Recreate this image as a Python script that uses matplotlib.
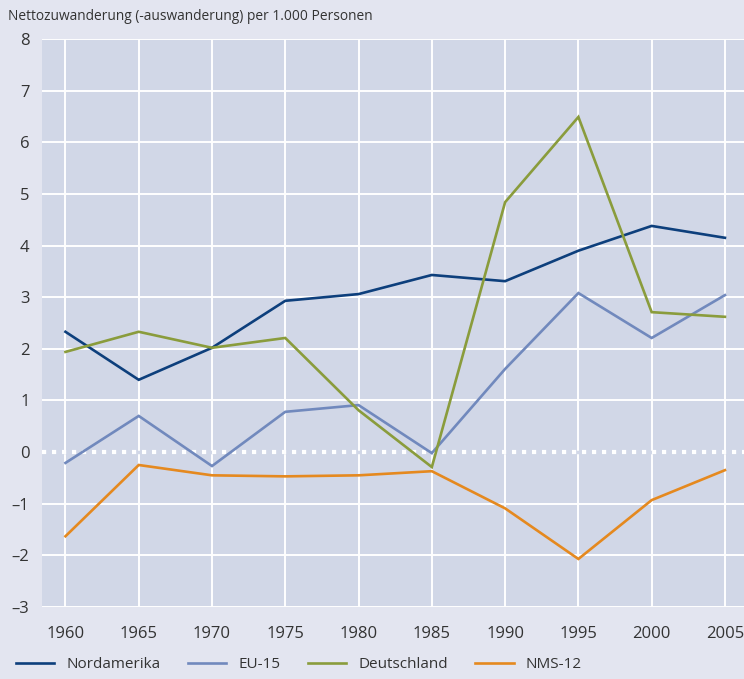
import matplotlib.pyplot as plt
from matplotlib.ticker import FuncFormatter

# Daten
jahre = [1960, 1965, 1970, 1975, 1980, 1985, 1990, 1995, 2000, 2005]
nordamerika = [2.33, 1.40, 2.02, 2.93, 3.06, 3.43, 3.31, 3.90, 4.38, 4.15]
eu15 = [-0.21, 0.70, -0.27, 0.78, 0.91, -0.02, 1.61, 3.08, 2.21, 3.04]
deutschland = [1.94, 2.33, 2.02, 2.21, 0.81, -0.29, 4.84, 6.49, 2.71, 2.62]
nms12 = [-1.63, -0.25, -0.45, -0.47, -0.45, -0.37, -1.09, -2.07, -0.93, -0.35]

serien = ["Nordamerika", "EU-15", "Deutschland", "NMS-12"]
farben = ["#0d3f7c", "#7189bd", "#8a9c3c", "#e5891f"]

titel = "Nettozuwanderung (-auswanderung) per 1.000 Personen"

plt.rcParams['font.family'] = ['Open Sans', 'DejaVu Sans']

fig = plt.figure(figsize=(7.44, 6.79), dpi=100)
fig.patch.set_facecolor("#e3e5f0")
ax = fig.add_axes([42 / 744, 72 / 679, 1 - 42 / 744, (607 - 39) / 679])
ax.set_facecolor("#d1d7e7")

for name, werte, farbe in zip(serien, [nordamerika, eu15, deutschland, nms12], farben):
    ax.plot(jahre, werte, color=farbe, lw=1.9, label=name, zorder=4,
            solid_joinstyle="miter")

ax.set_xlim(1958.4, 2006.3)
ax.set_ylim(-3, 7.96)
ax.set_xticks(jahre)
ax.set_yticks(range(-3, 9))
ax.grid(True, color="white", lw=1.4, zorder=1)
ax.set_axisbelow(True)
# Nulllinie gepunktet
ax.axhline(0, color="#d1d7e7", lw=2.5, zorder=2)
ax.axhline(0, color="white", lw=3, linestyle=(0, (1, 1.4)), zorder=3)

ax.yaxis.set_major_formatter(FuncFormatter(lambda v, p: f"{int(v)}".replace("-", "\u2013")))
ax.tick_params(length=0, labelsize=12, colors="#333333")
ax.tick_params(axis="y", pad=9)
ax.tick_params(axis="x", pad=14)
for s in ax.spines.values():
    s.set_visible(False)

fig.text(8 / 744, 1 - 17 / 679, titel, fontsize=9.9, color="#333333", va="center", ha="left")

fig.legend(loc="lower left", bbox_to_anchor=(0.003, -0.01), ncol=4, frameon=False,
           fontsize=11, handlelength=2.5, columnspacing=1.8, handletextpad=0.8,
           labelcolor="#333333")

fig.savefig("out.png", dpi=100, facecolor=fig.get_facecolor())
